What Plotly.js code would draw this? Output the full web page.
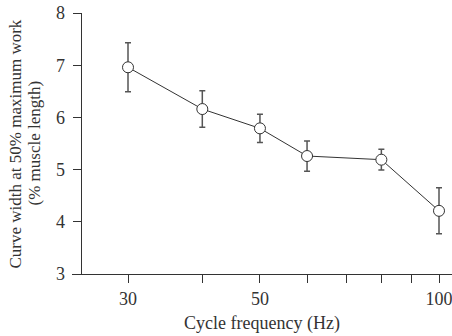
<!DOCTYPE html>
<html>
<head>
<meta charset="utf-8">
<script src="https://cdn.plot.ly/plotly-3.0.1.min.js"></script>
<style>
  html, body { margin: 0; padding: 0; background: #fff; }
  #chart { width: 452px; height: 336px; }
</style>
</head>
<body>
<div id="chart"></div>
<script>
// Cycle frequency (Hz) and curve width at 50% maximum work (% muscle length)
const frequency = [30, 40, 50, 60, 80, 100];
const curveWidth = [6.96, 6.16, 5.79, 5.26, 5.19, 4.21];
const errorSD = [0.47, 0.35, 0.27, 0.29, 0.20, 0.44];

const xTickVals = [30, 40, 50, 60, 70, 80, 90, 100];
const xTickText = ['30', '', '50', '', '', '', '', '100'];
const yTickVals = [3, 4, 5, 6, 7, 8];

const ink = '#333333';
const serif = '"Liberation Serif", "Times New Roman", serif';

const trace = {
  x: frequency,
  y: curveWidth,
  type: 'scatter',
  mode: 'lines+markers',
  line: { color: ink, width: 1 },
  marker: { symbol: 'circle', size: 11, color: '#ffffff', line: { color: ink, width: 1 } },
  error_y: { type: 'data', array: errorSD, visible: true, color: '#555555', thickness: 1.5, width: 3 },
  hoverinfo: 'skip'
};

const layout = {
  width: 452,
  height: 336,
  margin: { l: 72, r: 0, t: 13, b: 62 },
  paper_bgcolor: '#ffffff',
  plot_bgcolor: '#ffffff',
  showlegend: false,
  font: { family: serif, size: 18, color: ink },
  xaxis: {
    type: 'log',
    range: [1.38297, 2.02186],
    tickmode: 'array',
    tickvals: xTickVals,
    ticktext: xTickText,
    ticks: 'outside',
    ticklen: 8,
    tickwidth: 1,
    tickcolor: ink,
    showline: true,
    linecolor: ink,
    linewidth: 1,
    showgrid: false,
    zeroline: false,
    ticklabeloverflow: 'allow',
    tickfont: { family: serif, size: 18, color: ink },
    title: { text: 'Cycle frequency (Hz)', font: { family: serif, size: 18, color: ink }, standoff: 8 }
  },
  yaxis: {
    range: [3, 8],
    anchor: 'free',
    position: 0.0229,
    tickmode: 'array',
    tickvals: yTickVals,
    ticks: 'outside',
    ticklen: 8,
    tickwidth: 1,
    tickcolor: ink,
    showline: true,
    linecolor: ink,
    linewidth: 1,
    showgrid: false,
    zeroline: false,
    ticklabelstandoff: 4,
    tickfont: { family: serif, size: 18, color: ink }
  },
  // two-line vertical axis title, set tighter than the default line spacing
  annotations: [
    {
      text: 'Curve width at 50% maximum work',
      xref: 'paper', yref: 'paper', x: -0.1474, y: 0.5,
      xanchor: 'center', yanchor: 'middle', textangle: -90, showarrow: false,
      font: { family: serif, size: 17, color: ink }
    },
    {
      text: '(% muscle length)',
      xref: 'paper', yref: 'paper', x: -0.1, y: 0.5,
      xanchor: 'center', yanchor: 'middle', textangle: -90, showarrow: false,
      font: { family: serif, size: 17, color: ink }
    }
  ]
};

Plotly.newPlot('chart', [trace], layout, { displayModeBar: false, staticPlot: true });
</script>
</body>
</html>
